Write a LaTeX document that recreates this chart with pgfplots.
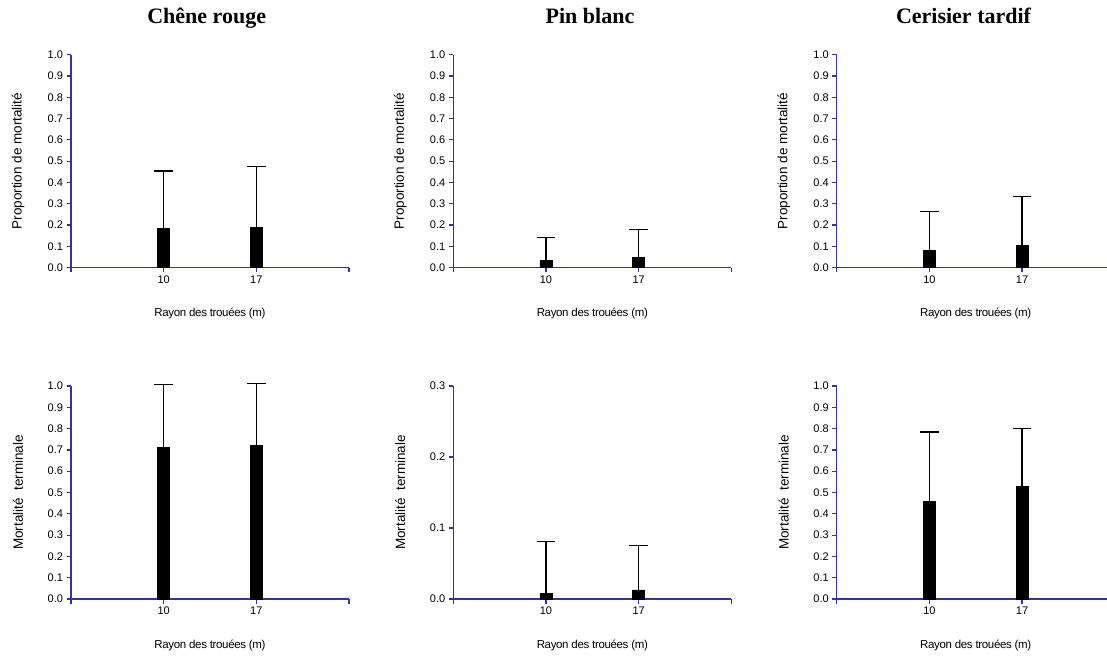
\documentclass[border=0pt]{standalone}
\usepackage{fontspec}
\setmainfont{Liberation Sans}
\newfontfamily\titlefont{Liberation Serif}
\newfontfamily\xlabfont[LetterSpace=-3]{Liberation Sans}
\usepackage{pgfplots}
\usepackage{pgfplotstable}
\pgfplotsset{compat=1.18}
\definecolor{ax}{RGB}{50,50,170}

\pgfplotstableread{
x y e
1 0.185 0.269
2 0.190 0.287
}\cheneA
\pgfplotstableread{
x y e
1 0.036 0.106
2 0.047 0.133
}\pinA
\pgfplotstableread{
x y e
1 0.083 0.181
2 0.106 0.230
}\ceriA
\pgfplotstableread{
x y e
1 0.711 0.294
2 0.723 0.288
}\cheneB
\pgfplotstableread{
x y e
1 0.0080 0.0726
2 0.0127 0.0623
}\pinB
\pgfplotstableread{
x y e
1 0.459 0.325
2 0.530 0.270
}\ceriB

\pgfplotsset{
  panel/.style={
    scale only axis, width=278pt, height=213pt,
    anchor=origin, clip=false,
    xmin=0, xmax=3, xtick={0,1,2,3}, xticklabels={,10,17,},
    ymin=0,
    axis x line*=bottom, axis y line*=left,
    axis line style={ax, line width=1.2pt},
    tick style={ax, line width=1.2pt},
    tick align=outside, major tick length=4.5pt,
    tick label style={font=\fontsize{11}{12}\selectfont, black},
    yticklabel style={/pgf/number format/.cd, fixed, fixed zerofill, precision=1, assume math mode=true},
    xticklabel style={/pgf/number format/assume math mode=true},
    every axis x label/.style={at={(axis description cs:0.5,0)}, yshift=-46pt, anchor=center, font=\xlabfont\fontsize{11.5}{13}\selectfont},
    every axis y label/.style={at={(axis description cs:0,0.5)}, xshift=-53pt, rotate=90, anchor=center, font=\fontsize{13.5}{15}\selectfont},
    xlabel={Rayon des trouées (m)},
  },
  bars/.style={ybar, bar width=12pt, fill=black, draw=black, line width=0.4pt,
    error bars/.cd, y dir=plus, y explicit,
    error bar style={black, line width=1.1pt},
    error mark options={black, rotate=90, mark size=9.3pt, line width=1.1pt}},
}

\begin{document}
\begin{tikzpicture}[x=1pt,y=1pt]
\path[use as bounding box] (0,0) rectangle (1107,659);

\node[anchor=base, font=\titlefont\bfseries\fontsize{22}{24}\selectfont] at (206.7,635.5) {Chêne rouge};
\node[anchor=base, font=\titlefont\bfseries\fontsize{22}{24}\selectfont] at (590,635.5) {Pin blanc};
\node[anchor=base, font=\titlefont\bfseries\fontsize{22}{24}\selectfont] at (963.5,635.5) {Cerisier tardif};

% top row
\begin{axis}[panel, at={(71pt,391.3pt)}, ymax=1, ytick={0,0.1,0.2,0.3,0.4,0.5,0.6,0.7,0.8,0.9,1.0}, ylabel={Proportion de mortalité}]
\addplot[bars] table[x=x, y=y, y error=e] {\cheneA};
\end{axis}
\begin{axis}[panel, at={(453.3pt,391.3pt)}, ymax=1, ytick={0,0.1,0.2,0.3,0.4,0.5,0.6,0.7,0.8,0.9,1.0}, ylabel={Proportion de mortalité}]
\addplot[bars] table[x=x, y=y, y error=e] {\pinA};
\end{axis}
\begin{axis}[panel, at={(836.7pt,391.3pt)}, ymax=1, ytick={0,0.1,0.2,0.3,0.4,0.5,0.6,0.7,0.8,0.9,1.0}, ylabel={Proportion de mortalité}]
\addplot[bars] table[x=x, y=y, y error=e] {\ceriA};
\end{axis}

% bottom row
\begin{axis}[panel, at={(71pt,60pt)}, ymax=1, ytick={0,0.1,0.2,0.3,0.4,0.5,0.6,0.7,0.8,0.9,1.0}, ylabel={Mortalité\ \ terminale}]
\addplot[bars] table[x=x, y=y, y error=e] {\cheneB};
\end{axis}
\begin{axis}[panel, at={(453.3pt,60pt)}, ymax=0.3, ytick={0,0.1,0.2,0.3}, ylabel={Mortalité\ \ terminale}]
\addplot[bars] table[x=x, y=y, y error=e] {\pinB};
\end{axis}
\begin{axis}[panel, at={(836.7pt,60pt)}, ymax=1, ytick={0,0.1,0.2,0.3,0.4,0.5,0.6,0.7,0.8,0.9,1.0}, ylabel={Mortalité\ \ terminale}]
\addplot[bars] table[x=x, y=y, y error=e] {\ceriB};
\end{axis}
\end{tikzpicture}
\end{document}
